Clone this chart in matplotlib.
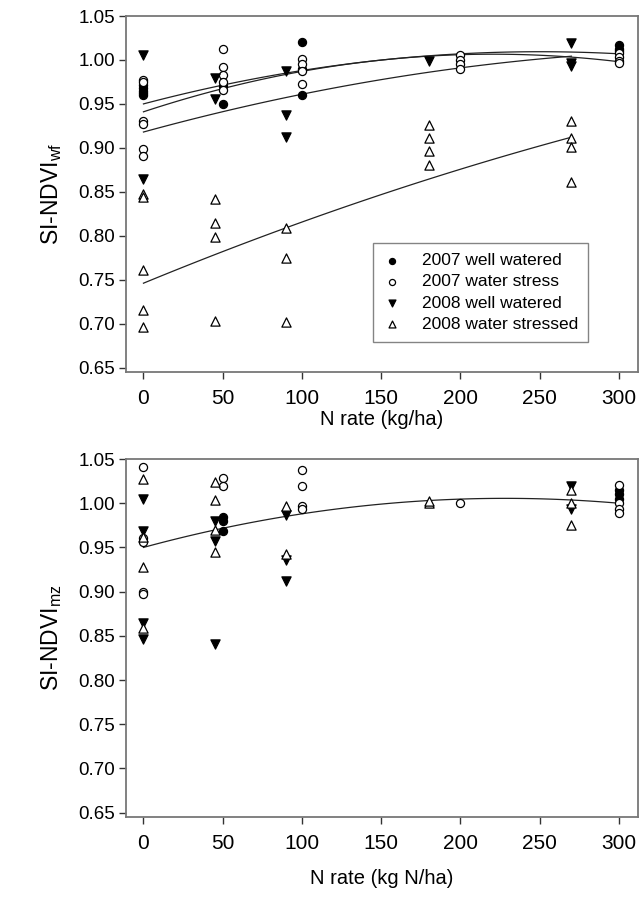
import numpy as np
import matplotlib
matplotlib.use('Agg')
from matplotlib import pyplot as plt

plt.rcParams['font.family'] = ['Liberation Sans', 'DejaVu Sans']
plt.rcParams['mathtext.fontset'] = 'custom'
plt.rcParams['mathtext.rm'] = 'Liberation Sans'
plt.rcParams['mathtext.it'] = 'Liberation Sans'

#=========================
# top panel: SI-NDVI wf
#=========================
wf_ww07_n = [0, 0, 0, 0, 0, 50, 50, 100, 100, 100, 300, 300, 300]
wf_ww07_v = [0.972, 0.968, 0.965, 0.962, 0.960, 0.970, 0.950, 1.020, 0.990, 0.960, 1.017, 1.013, 1.010]

wf_ws07_n = [0, 0, 0, 0, 0, 0, 50, 50, 50, 50, 50, 100, 100, 100, 100, 200, 200, 200, 200, 300, 300, 300, 300]
wf_ws07_v = [0.977, 0.975, 0.931, 0.927, 0.899, 0.891, 1.012, 0.992, 0.983, 0.975, 0.966,
             1.001, 0.995, 0.987, 0.973, 1.006, 1.000, 0.995, 0.990, 1.008, 1.003, 0.999, 0.996]

wf_ww08_n = [0, 0, 45, 45, 90, 90, 90, 180, 270, 270, 270]
wf_ww08_v = [1.006, 0.864, 0.979, 0.956, 0.987, 0.937, 0.912, 0.999, 1.019, 0.997, 0.993]

wf_ws08_n = [0, 0, 0, 0, 0, 45, 45, 45, 45, 90, 90, 90, 180, 180, 180, 180, 270, 270, 270, 270]
wf_ws08_v = [0.847, 0.844, 0.761, 0.715, 0.696, 0.842, 0.815, 0.798, 0.703, 0.809, 0.775, 0.702,
             0.926, 0.911, 0.896, 0.881, 0.931, 0.911, 0.901, 0.861]

# quadratic fits (c0, c1, c2) and the N range they cover
wf_fits = [
    ((0.950, 4.75e-4, -9.5e-7), 300),
    ((0.941, 5.95e-4, -1.35e-6), 300),
    ((0.918, 4.95e-4, -6.5e-7), 270),
    ((0.746, 7.43e-4, -4.73e-7), 270),
]

#=========================
# bottom panel: SI-NDVI mz
#=========================
mz_ww07_n = [50, 50, 50, 300, 300, 300]
mz_ww07_v = [0.984, 0.980, 0.969, 1.015, 1.010, 1.005]

mz_ws07_n = [0, 0, 0, 0, 0, 50, 50, 100, 100, 100, 100, 200, 300, 300, 300, 300]
mz_ws07_v = [1.041, 0.961, 0.956, 0.899, 0.897, 1.029, 1.019, 1.038, 1.020, 0.997, 0.994,
             1.000, 1.021, 1.000, 0.994, 0.989]

mz_ww08_n = [0, 0, 0, 0, 45, 45, 45, 90, 90, 90, 270, 270]
mz_ww08_v = [1.005, 0.969, 0.865, 0.846, 0.980, 0.957, 0.841, 0.987, 0.936, 0.912, 1.019, 0.994]

mz_ws08_n = [0, 0, 0, 0, 45, 45, 45, 45, 90, 90, 180, 180, 270, 270, 270]
mz_ws08_v = [1.027, 0.962, 0.928, 0.859, 1.024, 1.004, 0.970, 0.945, 0.997, 0.942,
             1.000, 1.002, 1.015, 1.000, 0.975]

mz_fits = [((0.950, 4.867e-4, -1.067e-6), 300)]

labels = ['2007 well watered', '2007 water stress', '2008 well watered', '2008 water stressed']
yticks = [0.65, 0.70, 0.75, 0.80, 0.85, 0.90, 0.95, 1.00, 1.05]
xticks = [0, 50, 100, 150, 200, 250, 300]

fig = plt.figure(figsize=(6.44, 9.05), dpi=100)
ax1 = fig.add_axes([0.1957, 0.589, 0.795, 0.3933])
ax2 = fig.add_axes([0.1957, 0.0972, 0.795, 0.3956])


def draw(ax, series, fits):
    styles = [dict(marker='o', facecolor='black', s=34),
              dict(marker='o', facecolor='white', s=34),
              dict(marker='v', facecolor='black', s=44),
              dict(marker='^', facecolor='white', s=44)]
    for (n, v), st, lab in zip(series, styles, labels):
        ax.scatter(n, v, marker=st['marker'], s=st['s'], facecolors=st['facecolor'],
                   edgecolors='black', linewidths=0.9, label=lab, zorder=3)
    for coef, nmax in fits:
        xx = np.linspace(0, nmax, 100)
        ax.plot(xx, coef[0] + coef[1] * xx + coef[2] * xx ** 2, color='#222222', lw=0.9, zorder=2)
    ax.set_xlim(-11, 312)
    ax.set_ylim(0.645, 1.05)
    ax.set_yticks(yticks)
    ax.set_yticklabels(['%.2f' % t for t in yticks], fontsize=13.5)
    ax.set_xticks(xticks)
    ax.set_xticklabels([str(t) for t in xticks], fontsize=15)
    ax.tick_params(axis='both', direction='out', length=5, width=1, color='#333333')
    ax.tick_params(axis='y', pad=3)
    ax.tick_params(axis='x', pad=7)
    for sp in ax.spines.values():
        sp.set_color('#777777')
        sp.set_linewidth(1.3)


draw(ax1, [(wf_ww07_n, wf_ww07_v), (wf_ws07_n, wf_ws07_v),
           (wf_ww08_n, wf_ww08_v), (wf_ws08_n, wf_ws08_v)], wf_fits)
draw(ax2, [(mz_ww07_n, mz_ww07_v), (mz_ws07_n, mz_ws07_v),
           (mz_ww08_n, mz_ww08_v), (mz_ws08_n, mz_ws08_v)], mz_fits)

ax1.set_ylabel(r'SI-NDVI$_{\mathrm{wf}}$', fontsize=16.5, labelpad=10)
ax2.set_ylabel(r'SI-NDVI$_{\mathrm{mz}}$', fontsize=16.5, labelpad=10)
ax1.set_xlabel('N rate (kg/ha)', fontsize=14.5, labelpad=2)
ax2.set_xlabel('N rate (kg N/ha)', fontsize=14.5, labelpad=12)

leg = ax1.legend(loc='lower right', bbox_to_anchor=(0.92, 0.059), fontsize=12.5,
                 frameon=True, fancybox=False, handletextpad=1.2, borderpad=0.6,
                 labelspacing=0.35, markerscale=0.75, handlelength=1.0)
leg.get_frame().set_edgecolor('#666666')
leg.get_frame().set_linewidth(1.0)

plt.savefig('out.png', dpi=100)
